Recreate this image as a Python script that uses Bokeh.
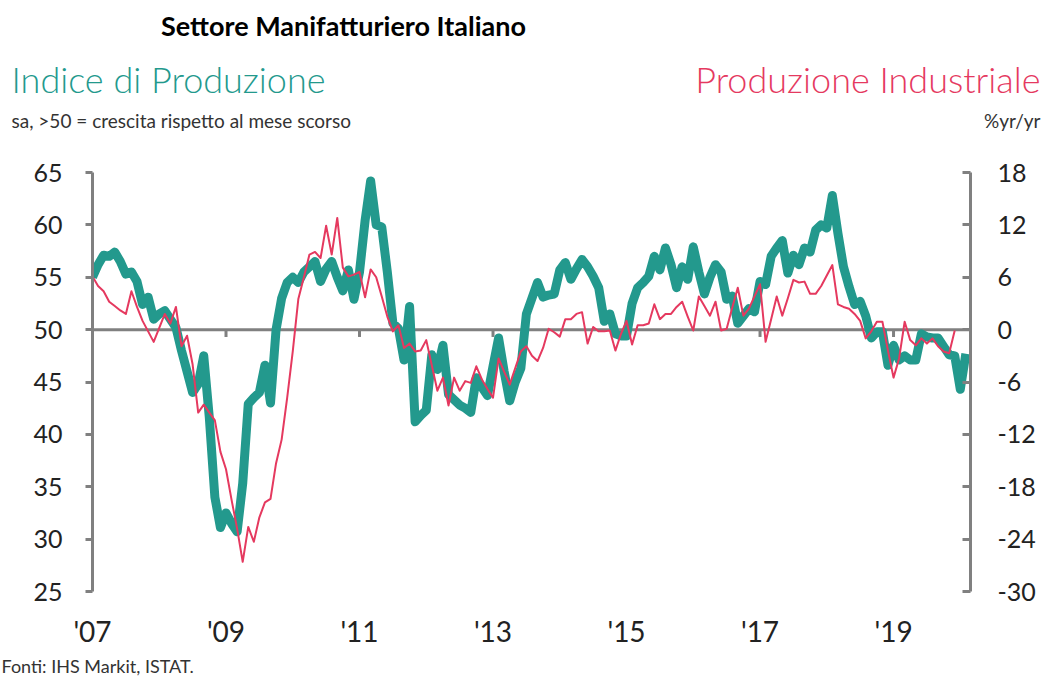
from bokeh.plotting import figure
from bokeh.models import Range1d, LinearAxis, FixedTicker, Label, Span
from bokeh.layouts import column
from bokeh.embed import file_html
from bokeh.resources import INLINE

# PMI output index (sa, >50 = growth m/m), monthly from Jan 2007
pmi_2007 = [55.0, 56.2, 57.1, 57.0, 57.4, 56.5, 55.3, 55.5, 54.6, 52.4, 53.1, 51.0]
pmi_2008 = [51.5, 51.8, 51.0, 50.2, 48.0, 46.0, 44.0, 44.8, 47.5, 41.6, 34.0, 31.1]
pmi_2009 = [32.5, 31.5, 30.7, 35.3, 42.9, 43.5, 44.0, 46.6, 43.0, 50.0, 53.0, 54.5]
pmi_2010 = [55.0, 54.5, 55.5, 56.0, 56.5, 54.6, 55.8, 56.5, 55.0, 53.7, 55.7, 52.9]
pmi_2011 = [55.5, 60.4, 64.2, 60.0, 59.8, 55.5, 50.6, 50.1, 47.1, 52.2, 41.2, 41.8]
pmi_2012 = [42.3, 47.6, 46.2, 48.5, 43.8, 43.3, 42.8, 42.5, 42.1, 45.4, 44.5, 43.7]
pmi_2013 = [46.5, 49.2, 46.0, 43.2, 45.0, 46.3, 51.5, 53.0, 54.5, 53.1, 53.3, 53.4]
pmi_2014 = [55.7, 56.4, 54.8, 55.8, 56.7, 56.0, 55.1, 54.0, 50.8, 51.5, 49.6, 49.4]
pmi_2015 = [49.4, 52.5, 54.0, 54.5, 55.1, 57.0, 55.7, 57.8, 56.2, 54.0, 56.0, 54.8]
pmi_2016 = [57.9, 55.5, 53.4, 55.0, 56.2, 55.5, 52.9, 53.2, 50.6, 51.3, 52.0, 51.7]
pmi_2017 = [54.6, 54.3, 57.0, 57.8, 58.5, 55.4, 57.1, 56.2, 57.8, 57.4, 59.5, 60.0]
pmi_2018 = [59.7, 62.8, 59.2, 56.0, 54.1, 52.4, 52.7, 51.3, 49.2, 49.8, 49.8, 46.6]
pmi_2019 = [48.5, 47.1, 47.5, 47.1, 47.1, 49.6, 49.3, 49.2, 49.2, 48.4, 47.6, 47.5]
pmi_2020 = [44.3, 47.7]

# Industrial production, %yr/yr, monthly from Jan 2007
ip_2007 = [6.1, 5.0, 4.4, 3.2, 2.7, 2.2, 1.8, 4.4, 2.6, 1.0, -0.2, -1.4]
ip_2008 = [0.2, 1.8, 0.7, 2.6, -1.9, -0.7, -4.0, -9.5, -8.6, -9.5, -10.4, -14.0]
ip_2009 = [-16.0, -19.5, -22.8, -26.6, -22.6, -24.3, -21.5, -19.8, -19.4, -15.3, -12.6, -7.8]
ip_2010 = [-2.5, 3.5, 6.0, 8.6, 8.9, 8.2, 11.9, 8.6, 12.8, 7.1, 6.1, 6.3]
ip_2011 = [6.6, 3.7, 6.9, 6.0, 3.8, 1.5, -0.2, 0.5, -2.1, -1.6, -2.5, -2.4]
ip_2012 = [-1.2, -4.1, -7.0, -5.5, -8.7, -5.5, -7.0, -5.9, -6.1, -4.2, -5.7, -6.8]
ip_2013 = [-7.8, -3.3, -4.8, -6.3, -4.4, -2.5, -1.9, -3.0, -3.6, -2.1, 0.1, -0.3]
ip_2014 = [-0.8, 1.2, 1.2, 1.8, 2.0, -1.6, 0.3, -0.2, -0.2, -0.1, -2.4, -0.5]
ip_2015 = [1.0, -1.7, 0.5, 0.5, 0.7, 2.9, 1.2, 1.8, 1.8, 2.6, 3.2, 1.5]
ip_2016 = [-0.1, 3.8, 2.7, 1.6, 3.2, -0.1, 0.1, 2.5, 4.8, 1.6, 2.4, 3.8]
ip_2017 = [5.2, -1.4, 1.2, 3.8, 1.6, 3.6, 5.7, 5.4, 5.5, 4.1, 4.1, 5.0]
ip_2018 = [6.2, 7.4, 2.9, 2.6, 2.4, 1.8, 1.0, -1.0, -0.2, 0.9, 0.9, -2.4]
ip_2019 = [-5.5, -3.3, 0.9, -1.2, -1.8, -1.0, -1.6, -1.0, -1.9, -2.5, -2.7, -0.1]

start_year = 2007
left_ticks = [25, 30, 35, 40, 45, 50, 55, 60, 65]
right_ticks = [-30, -24, -18, -12, -6, 0, 6, 12, 18]
year_ticks = [2007, 2009, 2011, 2013, 2015, 2017, 2019]
year_labels = ["'07", "'09", "'11", "'13", "'15", "'17", "'19"]
zero_ticks = [2009, 2011, 2013, 2015, 2017, 2019]

pmi = (pmi_2007 + pmi_2008 + pmi_2009 + pmi_2010 + pmi_2011 + pmi_2012 + pmi_2013
       + pmi_2014 + pmi_2015 + pmi_2016 + pmi_2017 + pmi_2018 + pmi_2019 + pmi_2020)
ip = (ip_2007 + ip_2008 + ip_2009 + ip_2010 + ip_2011 + ip_2012 + ip_2013
      + ip_2014 + ip_2015 + ip_2016 + ip_2017 + ip_2018 + ip_2019)
x_pmi = [start_year + i / 12 for i in range(len(pmi))]
x_ip = [start_year + i / 12 for i in range(len(ip))]

TEAL = "#23998d"
RED = "#e5395f"
GREY = "#808080"
TXT = "#222222"
FONT = "Lato"
LIGHT = "'Lato Light', Lato"
W = 1041


def blank(height, y0, y1):
    f = figure(width=W, height=height, output_backend="svg", toolbar_location=None,
               x_range=Range1d(0, W), y_range=Range1d(y1, y0),
               x_axis_type=None, y_axis_type=None,
               min_border_left=0, min_border_right=0, min_border_top=0,
               min_border_bottom=0)
    f.outline_line_color = None
    f.xgrid.visible = False
    f.ygrid.visible = False
    if "frame_align" in f.properties():
        f.frame_align = False
    return f


def lab(f, txt, x, y, size, color, align="left", style="normal", font=FONT):
    f.add_layout(Label(x=x, y=y, text=txt, text_font=font, text_font_size=size,
                       text_color=color, text_align=align, text_baseline="middle",
                       text_font_style=style))


# header (page pixels 0..150)
head = blank(150, 0, 150)
lab(head, "Settore Manifatturiero Italiano", 343, 25, "27px", "#000000", "center",
    style="bold")
lab(head, "Indice di Produzione", 11, 78, "36px", TEAL, font=LIGHT)
lab(head, "Produzione Industriale", 1040, 78, "36px", RED, "right", font=LIGHT)
lab(head, "sa, >50 = crescita rispetto al mese scorso", 11, 120, "19px", "#333333")
lab(head, "%yr/yr", 1040, 120, "19px", "#333333", "right")

# main chart (page pixels 150..650, frame 172..598)
p = figure(width=W, height=500, output_backend="svg", toolbar_location=None,
           x_range=Range1d(2007, 2020.153), y_range=Range1d(25, 65),
           min_border_left=92, min_border_right=W - 970, min_border_top=22,
           min_border_bottom=52)
p.extra_y_ranges = {"ip": Range1d(-30, 18)}
p.outline_line_color = None
p.xgrid.visible = False
p.ygrid.visible = False

ya = p.yaxis[0]
ya.ticker = FixedTicker(ticks=left_ticks)
ya.axis_line_color = GREY
ya.axis_line_width = 3
ya.major_tick_line_color = GREY
ya.major_tick_line_width = 3
ya.major_tick_out = 7
ya.major_tick_in = 0
ya.minor_tick_line_color = None
ya.major_label_standoff = 23
ya.major_label_text_font = FONT
ya.major_label_text_font_size = "25px"
ya.major_label_text_color = TXT

ra = LinearAxis(y_range_name="ip", ticker=FixedTicker(ticks=right_ticks))
ra.major_label_overrides = {t: str(t) for t in right_ticks}
ra.axis_line_color = GREY
ra.axis_line_width = 3
ra.major_tick_line_color = GREY
ra.major_tick_line_width = 3
ra.major_tick_out = 0
ra.major_tick_in = 8
ra.minor_tick_line_color = None
ra.major_label_standoff = 27
ra.major_label_text_font = FONT
ra.major_label_text_font_size = "25px"
ra.major_label_text_color = TXT
p.add_layout(ra, "right")

xa = p.xaxis[0]
xa.ticker = FixedTicker(ticks=year_ticks)
xa.major_label_overrides = {t: l for t, l in zip(year_ticks, year_labels)}
xa.axis_line_color = None
xa.major_tick_line_color = None
xa.minor_tick_line_color = None
xa.major_label_standoff = 16
xa.major_label_text_font = FONT
xa.major_label_text_font_size = "28px"
xa.major_label_text_color = TXT

p.add_layout(Span(location=50, dimension="width", line_color=GREY, line_width=3,
                  level="underlay"))
p.segment(x0=zero_ticks, y0=[50] * len(zero_ticks), x1=zero_ticks,
          y1=[49.3] * len(zero_ticks), line_color=GREY, line_width=3)

p.line(x_pmi, pmi, line_color=TEAL, line_width=9, line_join="round")
p.line(x_ip, ip, y_range_name="ip", line_color=RED, line_width=2, line_join="round")

# footer (page pixels 650..680)
foot = blank(30, 650, 680)
lab(foot, "Fonti: IHS Markit, ISTAT.", 1, 665, "18px", "#333333")

layout = column(head, p, foot, spacing=0)
open("out.html", "w").write(file_html(layout, INLINE))
